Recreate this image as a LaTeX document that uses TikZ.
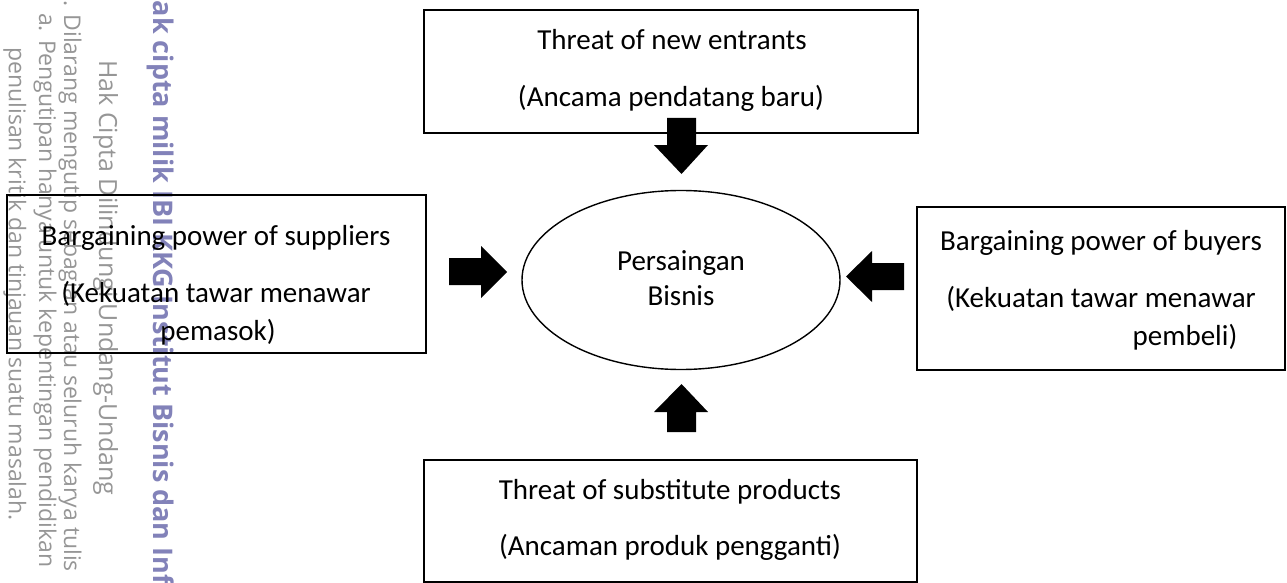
\documentclass[tikz,border=0pt]{standalone}
\usepackage{fontspec}
\setmainfont{Carlito}
\newfontfamily\wmfont{Open Sans}
\usetikzlibrary{shapes.geometric}
\definecolor{wmgray}{RGB}{150,150,150}
\definecolor{wmblue}{RGB}{130,130,185}
\tikzset{
  box/.style={draw=black, line width=1.8pt, inner sep=0pt},
  lbl/.style={anchor=base, inner sep=0pt, font=\fontsize{29}{35}\selectfont},
  blockarrow/.style={fill=black},
  wm/.style={rotate=-90, anchor=base west, inner sep=0pt, text=wmgray, font=\wmfont\fontsize{23}{28}\selectfont},
  wmbold/.style={rotate=-90, anchor=base west, inner sep=0pt, text=wmblue, font=\wmfont\bfseries\fontsize{27}{32}\selectfont}
}
\begin{document}
\begin{tikzpicture}[x=1pt,y=-1pt]
\useasboundingbox (0,0) rectangle (1287,583);
\fill[white] (0,0) rectangle (1287,583);
% watermark
\begin{scope}
\clip (0,0) rectangle (1287,583);
\node[wm] (w1) at (9,47) {penulisan kritik dan tinjauan suatu masalah.};
\node[wm] (w2) at (39,13) {a. Pengutipan hanya untuk kepentingan pendidikan};
\node[wm] (w3) at (64,-13) {1. Dilarang mengutip sebagian atau seluruh karya tulis};
\node[wm, font=\wmfont\fontsize{25}{30}\selectfont] (w4) at (99,60) {Hak Cipta Dilindungi Undang-Undang};
\node[wmbold] (w5) at (153,-20) {Hak cipta milik IBI KKG Institut Bisnis dan Informatika};
\end{scope}
% boxes
\node[box, minimum width=494pt, minimum height=123pt] (top) at (671,71.5) {};
\node[box, minimum width=419pt, minimum height=158pt] (left) at (216.5,274) {};
\node[box, minimum width=368pt, minimum height=163pt] (right) at (1101,288.5) {};
\node[box, minimum width=493pt, minimum height=122pt] (bottom) at (670.5,521) {};
\node[draw=black, line width=1.4pt, ellipse, minimum width=318pt, minimum height=179pt] (ell) at (681,280) {};
% texts
\node[lbl] (t1) at (672,50) {Threat of new entrants};
\node[lbl] (t2) at (671,107) {(Ancama pendatang baru)};
\node[lbl] (l1) at (216,245) {Bargaining power of suppliers};
\node[lbl] (l2) at (216,302) {(Kekuatan tawar menawar};
\node[lbl] (l3) at (218,340) {pemasok)};
\node[lbl] (r1) at (1101,250) {Bargaining power of buyers};
\node[lbl] (r2) at (1101,307) {(Kekuatan tawar menawar};
\node[lbl] (r3) at (1185,345) {pembeli)};
\node[lbl] (b1) at (670,499) {Threat of substitute products};
\node[lbl] (b2) at (670,555) {(Ancaman produk pengganti)};
\node[lbl] (e1) at (681,270) {Persaingan};
\node[lbl] (e2) at (681,305) {Bisnis};
% block arrows
\fill[blockarrow] (449,258)--(481,258)--(481,246)--(507,272)--(481,298)--(481,285)--(449,285)--cycle;
\fill[blockarrow] (904,263)--(872,263)--(872,251)--(846,276.5)--(872,302)--(872,290)--(904,290)--cycle;
\fill[blockarrow] (667,118)--(696,118)--(696,145)--(708,145)--(681.5,174)--(654,145)--(667,145)--cycle;
\fill[blockarrow] (667,432)--(667,412)--(654,412)--(681.5,384)--(708,412)--(696,412)--(696,432)--cycle;
\end{tikzpicture}
\end{document}
